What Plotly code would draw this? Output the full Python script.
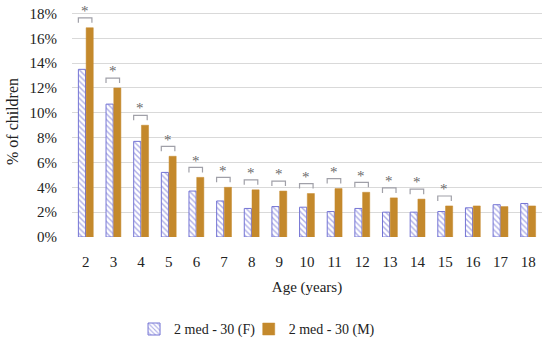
import plotly.graph_objects as go

ages = [2, 3, 4, 5, 6, 7, 8, 9, 10, 11, 12, 13, 14, 15, 16, 17, 18]
female = [13.5, 10.7, 7.7, 5.2, 3.7, 2.9, 2.3, 2.45, 2.4, 2.05, 2.3, 2.0, 2.0, 2.05, 2.35, 2.6, 2.7]
male = [16.85, 12.0, 9.0, 6.5, 4.8, 4.0, 3.8, 3.7, 3.5, 3.9, 3.6, 3.15, 3.05, 2.5, 2.5, 2.45, 2.5]
significant = [True] * 14 + [False] * 3
y_ticks = [0, 2, 4, 6, 8, 10, 12, 14, 16, 18]
y_tick_labels = [f"{v}%" for v in y_ticks]

FONT = "Liberation Serif"
TXT = "#222222"

fig = go.Figure()
fig.add_trace(go.Bar(
    x=ages, y=female, name="2 med - 30 (F)", legend="legend",
    marker=dict(color="white",
                line=dict(color="#7474d4", width=1),
                pattern=dict(shape="\\", fgcolor="#5c5cd0", bgcolor="white", size=4, solidity=0.35)),
))
fig.add_trace(go.Bar(
    x=ages, y=male, name="2 med - 30 (M)", legend="legend2",
    marker=dict(color="#c4892c", line=dict(color="#c4892c", width=0.5)),
))

# significance brackets
for a, f, m, s in zip(ages, female, male, significant):
    if not s:
        continue
    top = max(f, m) + 0.8
    fig.add_shape(type="path",
                  path=f"M {a-0.27},{top-0.4} L {a-0.27},{top} L {a+0.22},{top} L {a+0.22},{top-0.4}",
                  xref="x", yref="y", line=dict(color="#a0a0a8", width=1.2))
    fig.add_annotation(x=a - 0.03, y=top + 0.55, text="*", showarrow=False,
                       xref="x", yref="y", font=dict(family=FONT, size=15, color="#6a6a6a"))

legend_common = dict(orientation="h", xanchor="left", y=-0.40, yanchor="middle",
                     font=dict(family=FONT, size=14, color=TXT), itemwidth=30,
                     bgcolor="rgba(0,0,0,0)")

fig.update_layout(
    width=550, height=343,
    margin=dict(l=72, r=8, t=6, b=106, autoexpand=False),
    paper_bgcolor="white", plot_bgcolor="white",
    barmode="group", bargap=0.44, bargroupgap=0.08,
    font=dict(family=FONT, size=15, color=TXT),
    showlegend=True,
    legend=dict(x=0.132, **legend_common),
    legend2=dict(x=0.376, **legend_common),
)
fig.update_xaxes(
    automargin=False,
    range=[1.5, 18.5], tickmode="array", tickvals=ages, ticktext=[str(a) for a in ages],
    showgrid=False, zeroline=False, showline=False, ticks="",
    ticklabelstandoff=14,
    tickfont=dict(family=FONT, size=15, color=TXT),
    title=dict(text="Age (years)", font=dict(family=FONT, size=15, color=TXT), standoff=12),
)
fig.update_yaxes(
    automargin=False,
    range=[0, 18.6], tickmode="array", tickvals=y_ticks, ticktext=y_tick_labels,
    showgrid=True, gridcolor="#d9d9d9", gridwidth=1, zeroline=False, showline=False, ticks="",
    ticklabelstandoff=14,
    tickfont=dict(family=FONT, size=15, color=TXT),
    title=dict(text="% of children", font=dict(family=FONT, size=16, color=TXT), standoff=6),
)

fig.write_html("out.html", config={"displayModeBar": False},
               post_script="document.body.style.margin='0px';")
